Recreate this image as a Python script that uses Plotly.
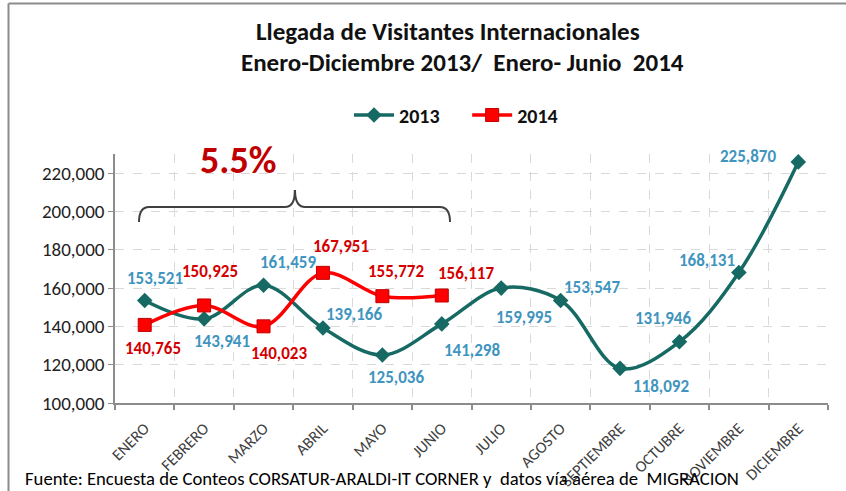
import plotly.graph_objects as go

months = ["ENERO", "FEBRERO", "MARZO", "ABRIL", "MAYO", "JUNIO", "JULIO",
          "AGOSTO", "SEPTIEMBRE", "OCTUBRE", "NOVIEMBRE", "DICIEMBRE"]
v2013 = [153521, 143941, 161459, 139166, 125036, 141298, 159995,
         153547, 118092, 131946, 168131, 225870]
v2014 = [140765, 150925, 140023, 167951, 155772, 156117]
growth_label = "5.5%"

# label offsets (px) for data labels - styling only
off2013 = [(10, 22), (18, -23), (24, 23), (31, 13), (14, -22), (30, -27),
           (23, -29), (31, 13), (41, -18), (-16, 23), (-32, 12), (-50, 5)]
off2014 = [(8, -24), (6, 34), (15, -27), (18, 26), (14, 25), (24, 22)]

W, H = 846, 491
L, R, T, B = 115, 18, 154, 88
PW, PH = W - L - R, H - T - B
YMIN, YMAX = 100000, 230000

def px2x(p):
    return (p - L) / PW

def px2y(p):
    return (H - B - p) / PH

def py2val(p):
    return YMIN + (H - B - p) / PH * (YMAX - YMIN)

def px2cat(p):
    return (p - L) / PW * len(months) - 0.5

FONT = "Carlito, Calibri, Lato, sans-serif"
TEAL = "#176a63"
RED = "#ff0000"
BLUE_LBL = "#3f95be"
RED_LBL = "#d40000"
NB = "\u00a0"

x = list(range(len(months)))

fig = go.Figure()
fig.add_trace(go.Scatter(
    x=x, y=v2013, name="<b>2013</b>" + NB * 5, mode="lines+markers",
    line=dict(color=TEAL, width=3.5, shape="spline", smoothing=1),
    marker=dict(symbol="diamond", size=12, color=TEAL),
))
fig.add_trace(go.Scatter(
    x=x[:len(v2014)], y=v2014, name="<b>2014</b>", mode="lines+markers",
    line=dict(color=RED, width=3.5, shape="spline", smoothing=1),
    marker=dict(symbol="square", size=13, color=RED, line=dict(color="#c00000", width=1)),
))

ann = []
for i, v in enumerate(v2013):
    dx, dy = off2013[i]
    ann.append(dict(x=i, y=v, xref="x", yref="y", text=f"<b>{v:,}</b>", showarrow=False,
                    xanchor="center", yanchor="middle",
                    xshift=dx, yshift=dy, font=dict(family=FONT, size=17, color=BLUE_LBL)))
for i, v in enumerate(v2014):
    dx, dy = off2014[i]
    ann.append(dict(x=i, y=v, xref="x", yref="y", text=f"<b>{v:,}</b>", showarrow=False,
                    xanchor="center", yanchor="middle",
                    xshift=dx, yshift=dy, font=dict(family=FONT, size=17, color=RED_LBL)))

# Titles
ann.append(dict(x=px2x(448), y=px2y(32), xref="paper", yref="paper", xanchor="center", yanchor="middle",
                text="<b>Llegada de Visitantes Internacionales</b>", showarrow=False,
                font=dict(family=FONT, size=25, color="#111111")))
ann.append(dict(x=px2x(462), y=px2y(63), xref="paper", yref="paper", xanchor="center", yanchor="middle",
                text="<b>Enero-Diciembre 2013/  Enero- Junio  2014</b>", showarrow=False,
                font=dict(family=FONT, size=25, color="#111111")))
# growth
ann.append(dict(x=px2x(238), y=px2y(160), xref="paper", yref="paper", xanchor="center", yanchor="middle",
                text=f"<b>{growth_label}</b>", showarrow=False,
                font=dict(family=FONT, size=38, color="#c00000")))
# source
ann.append(dict(x=px2x(23), y=px2y(478), xref="paper", yref="paper", xanchor="left", yanchor="middle",
                text="Fuente: Encuesta de Conteos CORSATUR-ARALDI-IT CORNER y  datos vía aérea de  MIGRACION",
                showarrow=False, font=dict(family=FONT, size=18.7, color="#000000")))

# brace over Jan-Jun
x0, x1 = px2cat(139), px2cat(450)
xm = px2cat(295)
r = 0.17
ye, ya, yp = py2val(222), py2val(207), py2val(190)
brace = (f"M {x0},{ye} Q {x0},{ya} {x0 + r},{ya} L {xm - r},{ya} "
         f"Q {xm},{ya} {xm},{yp} Q {xm},{ya} {xm + r},{ya} "
         f"L {x1 - r},{ya} Q {x1},{ya} {x1},{ye}")

shapes = [
    dict(type="path", path=brace, xref="x", yref="y", line=dict(color="#404040", width=2)),
    # outer chart border (top & left)
    dict(type="line", xref="paper", yref="paper", x0=px2x(8.5), x1=px2x(846), y0=px2y(3.5), y1=px2y(3.5),
         line=dict(color="#8c8c8c", width=2)),
    dict(type="line", xref="paper", yref="paper", x0=px2x(8.5), x1=px2x(8.5), y0=px2y(3.5), y1=px2y(491),
         line=dict(color="#8c8c8c", width=2)),
]

fig.update_layout(
    width=W, height=H,
    margin=dict(l=L, r=R, t=T, b=B, autoexpand=False),
    paper_bgcolor="white", plot_bgcolor="white",
    font=dict(family=FONT, color="#222222"),
    showlegend=True,
    legend=dict(orientation="h", x=px2x(456), y=px2y(115), xanchor="center", yanchor="middle",
                font=dict(family=FONT, size=20, color="#111111"), itemwidth=40,
                bgcolor="rgba(0,0,0,0)"),
    annotations=ann,
    shapes=shapes,
)
fig.update_xaxes(
    range=[-0.5, len(months) - 0.5], tickmode="array", tickvals=x, ticktext=months,
    tickangle=-45, tickfont=dict(family=FONT, size=16, color="#404040"),
    ticklabelstandoff=8,
    showgrid=False, ticks="", showline=True, linecolor="#8c8c8c", linewidth=1.5,
    zeroline=False,
    minor=dict(tickmode="linear", tick0=-0.5, dtick=1, showgrid=True, gridcolor="#d9d9d9",
               griddash="dash", gridwidth=1, ticks="outside", ticklen=5, tickcolor="#8c8c8c",
               tickwidth=1.5),
)
fig.update_yaxes(
    range=[YMIN, YMAX], tick0=YMIN, dtick=20000, tickformat=",",
    tickfont=dict(family=FONT, size=19, color="#222222"),
    showgrid=True, gridcolor="#d9d9d9", griddash="dash", gridwidth=1,
    showline=True, linecolor="#8c8c8c", linewidth=1.5, ticks="outside", ticklen=5,
    tickcolor="#8c8c8c", zeroline=False,
)

fig.write_html("out.html", config={"displayModeBar": False},
               post_script="document.body.style.margin='0';")
